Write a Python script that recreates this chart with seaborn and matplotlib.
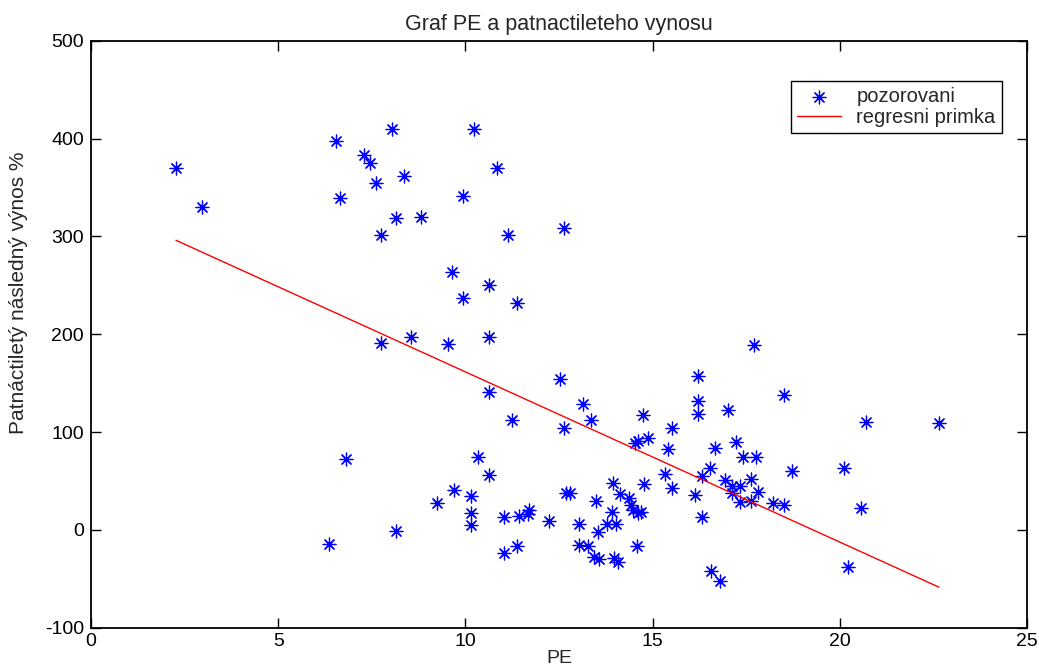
import matplotlib

matplotlib.use("Agg")

import matplotlib.pyplot as plt
import numpy as np
import pandas as pd
import seaborn as sns

pe_upper = [2.27, 2.97, 6.55, 8.05, 7.30, 7.45, 8.35, 7.60, 6.65, 8.15, 8.80, 7.75, 7.75, 8.55,
	10.24, 10.84, 9.94, 12.63, 11.14, 9.64, 10.64, 9.94, 11.39, 9.54, 10.64]
ret_upper = [370, 330, 398, 410, 383, 375, 362, 355, 339, 319, 320, 301, 191, 197,
	410, 370, 341, 309, 301, 264, 250, 237, 232, 190, 197]

pe_middle = [12.53, 10.64, 13.13, 13.36, 11.24, 12.63, 6.80, 10.34, 10.64, 9.69, 10.14, 9.25,
	10.14, 10.14, 8.15, 6.35, 12.68, 12.78, 11.04, 11.44, 11.69, 11.66, 12.23, 11.04,
	11.39, 13.03, 13.48, 13.53, 13.03, 13.28, 13.43, 13.58]
ret_middle = [154, 141, 129, 112, 112, 104, 72, 74, 56, 41, 35, 27,
	17, 5, -1, -14, 38, 38, 13, 14, 20, 16, 9, -24,
	-16, 6, 30, -2, -15, -16, -28, -30]

pe_right = [17.71, 16.22, 18.52, 16.22, 17.02, 16.22, 14.73, 15.52, 14.87, 14.62, 14.52, 17.22,
	16.67, 15.42, 17.42, 17.77, 20.12, 16.52, 18.72, 16.32, 15.32, 17.62, 16.92, 13.93,
	14.78, 17.12, 17.32, 15.52, 17.82, 17.12, 16.12, 14.12, 14.38, 17.62, 17.32, 18.22,
	18.52, 14.42, 13.92, 14.48, 14.62, 14.68, 16.32, 13.78, 14.03, 14.58, 13.98, 14.08,
	16.57, 16.81, 20.21, 20.71, 22.65, 20.56]
ret_right = [189, 157, 138, 132, 123, 118, 117, 104, 94, 91, 89, 90,
	84, 83, 74, 74, 63, 63, 60, 55, 57, 52, 51, 48,
	47, 45, 45, 43, 39, 38, 36, 37, 33, 30, 28, 27,
	25, 25, 18, 20, 17, 18, 13, 6, 6, -16, -29, -33,
	-42, -52, -38, 110, 109, 22]

# regression line as drawn in the reference
fit_intercept = 335.5
fit_slope = -17.40

x_ticks = [0, 5, 10, 15, 20, 25]
y_ticks = [-100, 0, 100, 200, 300, 400, 500]

title = "Graf PE a patnactileteho vynosu"
x_label = "PE"
y_label = "Patnáctiletý následný výnos %"
legend_labels = ["pozorovani", "regresni primka"]


def build_frame() -> pd.DataFrame:
	return pd.DataFrame({
		"pe": pe_upper + pe_middle + pe_right,
		"ret": ret_upper + ret_middle + ret_right,
	})


def main() -> None:
	sns.set_theme(style="white")
	plt.rcParams["font.family"] = ["Liberation Sans", "DejaVu Sans"]
	plt.rcParams["axes.unicode_minus"] = False

	df = build_frame()
	fit_x = np.array([df["pe"].min(), df["pe"].max()])
	fit = pd.DataFrame({"pe": fit_x, "ret": fit_intercept + fit_slope * fit_x})

	fig = plt.figure(figsize=(10.39, 6.68), dpi=100)
	ax = fig.add_axes([0.0876, 0.0603, 0.9009, 0.8787])

	sns.scatterplot(data=df, x="pe", y="ret", ax=ax, marker=(8, 2, 0), s=85,
		color="blue", linewidth=0.9, label=legend_labels[0])
	sns.lineplot(data=fit, x="pe", y="ret", ax=ax, color="red", linewidth=1.0,
		label=legend_labels[1])

	ax.set_xlim(0, 25)
	ax.set_ylim(-100, 500)
	ax.set_xticks(x_ticks)
	ax.set_yticks(y_ticks)
	ax.tick_params(direction="in", length=7, width=1, labelsize=14, pad=5,
		top=True, right=True, bottom=True, left=True, colors="black")
	ax.tick_params(axis="x", pad=4)
	for side in ["top", "right", "bottom", "left"]:
		ax.spines[side].set_visible(True)
		ax.spines[side].set_color("black")
		ax.spines[side].set_linewidth(1.3)
	ax.grid(False)

	ax.set_title(title, fontsize=15.5, pad=8)
	ax.set_xlabel(x_label, fontsize=14, labelpad=0)
	ax.set_ylabel(y_label, fontsize=15, labelpad=8)
	ax.yaxis.set_label_coords(-0.067, 0.57)

	leg = ax.legend(loc="upper right", bbox_to_anchor=(0.973, 0.931), borderaxespad=0,
		fontsize=14.5, frameon=True, fancybox=False, framealpha=1, edgecolor="black",
		handlelength=2.2, handletextpad=0.75, borderpad=0.3, labelspacing=0.1)
	leg.get_frame().set_linewidth(1.0)

	fig.savefig("out.png", dpi=100)
	plt.close(fig)


if __name__ == "__main__":
	main()
